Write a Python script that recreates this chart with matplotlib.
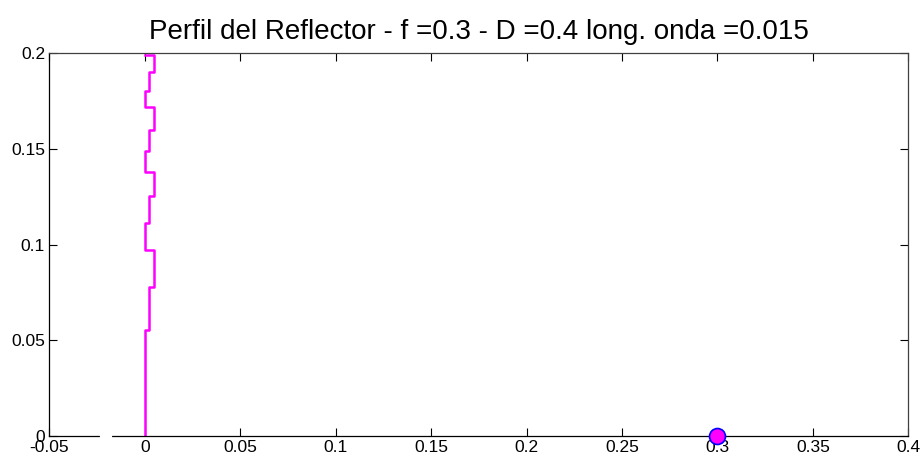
import matplotlib
matplotlib.use('Agg')
import matplotlib.pyplot as plt

# perfil escalonado (x = profundidad, y = altura)
x_prof = [0, 0, 0.0025, 0.0025, 0.005, 0.005, 0, 0, 0.0025, 0.0025, 0.005, 0.005,
          0, 0, 0.0025, 0.0025, 0.005, 0.005, 0, 0, 0.0025, 0.0025, 0.005, 0.005, 0]
y_prof = [0, 0.0553, 0.0553, 0.0779, 0.0779, 0.0971, 0.0971, 0.111, 0.111, 0.1253, 0.1253, 0.138,
          0.138, 0.1487, 0.1487, 0.160, 0.160, 0.1716, 0.1716, 0.180, 0.180, 0.190, 0.190, 0.1992, 0.1992]

foco_x = [0.3]
foco_y = [0.0]

xticks = [-0.05, 0, 0.05, 0.1, 0.15, 0.2, 0.25, 0.3, 0.35, 0.4]
xlabels = ['-0.05', '0', '0.05', '0.1', '0.15', '0.2', '0.25', '0.3', '0.35', '0.4']
yticks = [0, 0.05, 0.1, 0.15, 0.2]
ylabels = ['0', '0.05', '0.1', '0.15', '0.2']

plt.rcParams['font.family'] = ['Liberation Sans', 'DejaVu Sans']

fig = plt.figure(figsize=(9.21, 4.61), dpi=100)
ax = fig.add_axes([0.0535, 0.0542, 0.9327, 0.8308])

ax.plot(x_prof, y_prof, color='#ff00ff', linewidth=1.8)
ax.plot(foco_x, foco_y, 'o', markerfacecolor='#ff00ff', markeredgecolor='blue',
        markeredgewidth=1.2, markersize=11.5, clip_on=False, zorder=5)

# hueco en el eje inferior
ax.plot([-0.0224, -0.0182], [0, 0], color='white', linewidth=3, clip_on=False, zorder=6)

ax.set_xlim(-0.05, 0.4)
ax.set_ylim(0, 0.2)
ax.set_xticks(xticks)
ax.set_xticklabels(xlabels)
ax.set_yticks(yticks)
ax.set_yticklabels(ylabels)
ax.tick_params(direction='in', length=6, width=0.8, top=True, right=True,
               labelsize=12.5, pad=3)
for s in ax.spines.values():
    s.set_linewidth(0.9)
ax.spines['top'].set_color('#404040')
ax.spines['right'].set_color('#404040')

ax.set_title('Perfil del Reflector - f =0.3 - D =0.4 long. onda =0.015', fontsize=20, pad=10)

fig.savefig('out.png', dpi=100)
